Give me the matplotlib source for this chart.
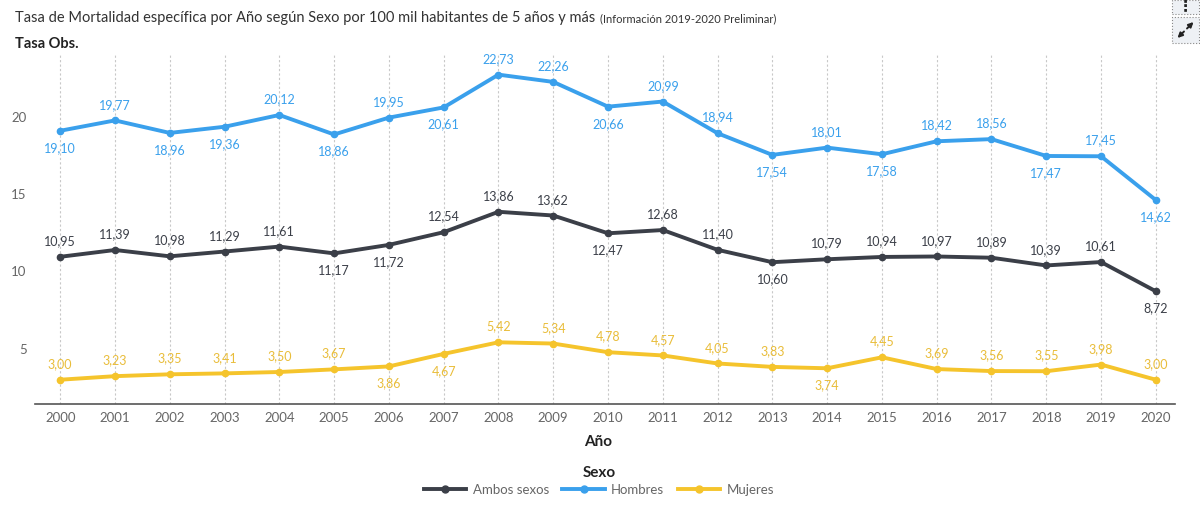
import matplotlib
matplotlib.use("Agg")
import matplotlib.pyplot as plt
from matplotlib.lines import Line2D
from matplotlib.patches import Rectangle

plt.rcParams['font.family'] = ['Lato', 'DejaVu Sans']

years = list(range(2000, 2021))
ambos = [10.95, 11.39, 10.98, 11.29, 11.61, 11.17, 11.72, 12.54, 13.86, 13.62, 12.47,
         12.68, 11.40, 10.60, 10.79, 10.94, 10.97, 10.89, 10.39, 10.61, 8.72]
hombres = [19.10, 19.77, 18.96, 19.36, 20.12, 18.86, 19.95, 20.61, 22.73, 22.26, 20.66,
           20.99, 18.94, 17.54, 18.01, 17.58, 18.42, 18.56, 17.47, 17.45, 14.62]
mujeres = [3.00, 3.23, 3.35, 3.41, 3.50, 3.67, 3.86, 4.67, 5.42, 5.34, 4.78,
           4.57, 4.05, 3.83, 3.74, 4.45, 3.69, 3.56, 3.55, 3.98, 3.00]
# label position: 1 above, -1 below
ambos_pos = [1, 1, 1, 1, 1, -1, -1, 1, 1, 1, -1, 1, 1, -1, 1, 1, 1, 1, 1, 1, -1]
hombres_pos = [-1, 1, -1, -1, 1, -1, 1, -1, 1, 1, -1, 1, 1, -1, 1, -1, 1, 1, -1, 1, -1]
mujeres_pos = [1, 1, 1, 1, 1, 1, -1, -1, 1, 1, 1, 1, 1, 1, -1, 1, 1, 1, 1, 1, 1]
series_names = ["Ambos sexos", "Hombres", "Mujeres"]
colors = ["#3b3f48", "#3aa0ec", "#f5c42c"]
label_colors = ["#3b3f48", "#3aa0ec", "#e9bd3a"]
yticks = [5, 10, 15, 20]

fig = plt.figure(figsize=(12, 5.05), dpi=100)
ax = fig.add_axes([35/1200, 101/505, 1140/1200, 349/505])
ax.set_facecolor('none')
ax.set_xlim(1999.54, 2020.35)
ax.set_ylim(1.43, 24.0)

for x in years:
    ax.axvline(x, color="#c8c8c8", lw=0.8, ls=(0, (2, 2)), zorder=0)

data = [ambos, hombres, mujeres]
positions = [ambos_pos, hombres_pos, mujeres_pos]
for vals, pos, c, lc in zip(data, positions, colors, label_colors):
    ax.plot(years, vals, color=c, lw=2.8, marker='o', ms=4.5, zorder=3)
    for x, v, p in zip(years, vals, pos):
        txt = f"{v:.2f}".replace('.', ',')
        ax.annotate(txt, (x, v), xytext=(0, 7 if p > 0 else -8), textcoords='offset points',
                    ha='center', va='bottom' if p > 0 else 'top', fontsize=9, color=lc)

for s in ['top', 'right', 'left']:
    ax.spines[s].set_visible(False)
ax.spines['bottom'].set_color('#555555')
ax.spines['bottom'].set_linewidth(1.2)
ax.set_xticks(years)
ax.set_xticklabels([str(y) for y in years], fontsize=9.5, color='#666666')
ax.set_yticks(yticks)
ax.set_yticklabels([str(y) for y in yticks], fontsize=9.5, color='#666666')
ax.tick_params(axis='y', length=0, pad=6)
ax.tick_params(axis='x', length=0, pad=6)

t1 = fig.text(15/1200, 1 - 18/505, "Tasa de Mortalidad específica por Año según Sexo por 100 mil habitantes de 5 años y más",
              fontsize=10.5, color='#333333', va='center', ha='left')
fig.canvas.draw()
bb = t1.get_window_extent(fig.canvas.get_renderer())
fig.text((bb.x1 + 5)/1200, 1 - 19/505, "(Información 2019-2020 Preliminar)", fontsize=8, color='#333333',
         va='center', ha='left')
fig.text(15/1200, 1 - 44/505, "Tasa Obs.", fontsize=10.5, fontweight='bold', color='#222222',
         va='center', ha='left')
fig.text(598/1200, 1 - 442/505, "Año", fontsize=11, fontweight='bold', color='#222222',
         va='center', ha='center')
fig.text(599/1200, 1 - 473/505, "Sexo", fontsize=11, fontweight='bold', color='#222222',
         va='center', ha='center')

handles = [Line2D([0], [0], color=c, lw=2.8, marker='o', ms=5) for c in colors]
leg = fig.legend(handles, series_names, loc='center', bbox_to_anchor=(599/1200, 1 - 490/505),
                 ncol=3, frameon=False, fontsize=9.5, handlelength=3.2, handletextpad=0.5,
                 columnspacing=1.0, labelcolor='#666666')

# UI buttons at top right
for (x0, y0, w, h) in [(1172, 0, 27, 14), (1172, 17, 27, 26)]:
    r = Rectangle((x0/1200, 1 - (y0 + h)/505), w/1200, h/505, transform=fig.transFigure,
                  facecolor='#eef1f5', edgecolor='#888888', lw=0.8, ls=':', zorder=-1)
    fig.patches.append(r)
fig.text(1185.5/1200, 1 - 6/505, "⋮", fontsize=11, fontweight='bold', ha='center', va='center',
         color='#222222', family=['DejaVu Sans'])
# expand icon drawn as two arrows (figure pixel coords, origin bottom-left)
cx, cy = 1185.5, 505 - 30
for dx, dy in [(1, 1), (-1, -1)]:
    ax.annotate('', xy=(cx + 8*dx, cy + 8*dy), xycoords='figure pixels',
                xytext=(cx + 1.5*dx, cy + 1.5*dy), textcoords='figure pixels',
                arrowprops=dict(arrowstyle='-|>', color='#222222', lw=1.4, mutation_scale=7,
                                shrinkA=0, shrinkB=0),
                annotation_clip=False)

fig.savefig("out.png", dpi=100)
